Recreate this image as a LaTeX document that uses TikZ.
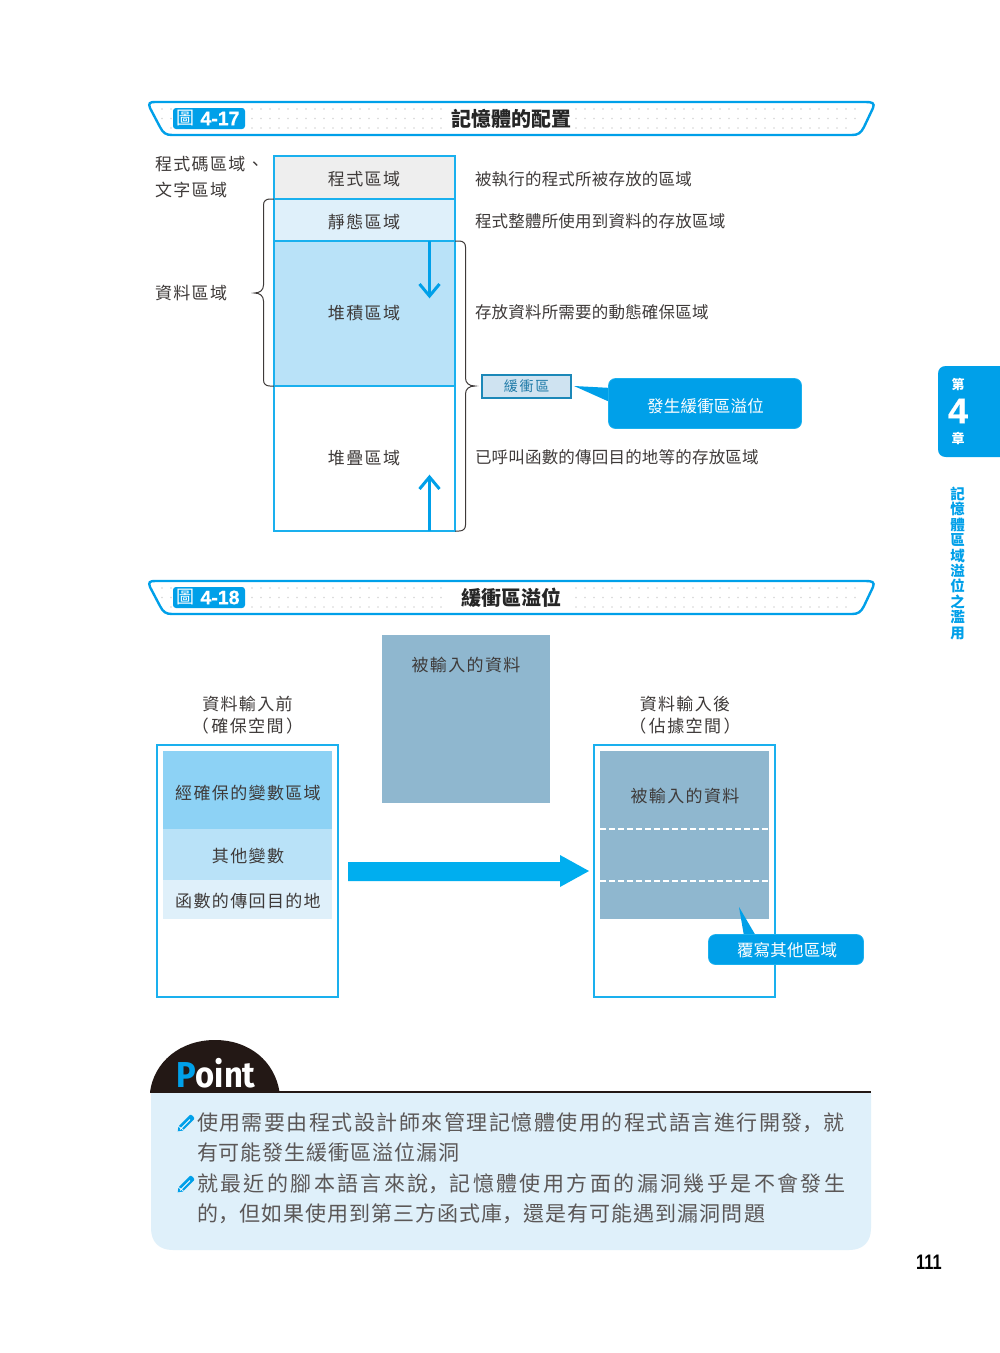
\documentclass[tikz,border=0pt]{standalone}
\usepackage{fontspec}
\setmainfont{Noto Sans CJK TC}
\newfontfamily\cjkA[LetterSpace=1.2]{Noto Sans CJK TC}
\newfontfamily\cjkB[LetterSpace=8]{Noto Sans CJK TC}
\newfontfamily\cjkS[LetterSpace=12.5]{Noto Sans CJK TC}
\newfontfamily\cjkT[LetterSpace=0]{Noto Sans CJK TC}
\newfontfamily\latB[FakeStretch=0.91]{Fira Sans}
\newfontfamily\numB{Liberation Sans}
\newfontfamily\numH[UprightFont=* Bold,FakeBold=0.5]{Liberation Sans}
\newfontfamily\numC[FakeStretch=0.78]{Liberation Sans}
\newcommand{\scm}[1]{{\fontspec{Noto Sans CJK SC}[LetterSpace=#1]，}}
\definecolor{cy}{HTML}{00A0E9}
\definecolor{ln}{HTML}{1AB0EE}
\definecolor{tx}{HTML}{3E3A39}
\definecolor{gr}{HTML}{EEEEEE}
\definecolor{pa}{HTML}{DFF0FA}
\definecolor{mi}{HTML}{B9E2F8}
\definecolor{da}{HTML}{8DD2F5}
\definecolor{st}{HTML}{8FB7CF}
\definecolor{bk}{HTML}{231815}
\definecolor{ar}{HTML}{00AEEF}
\tikzset{
 x=1pt,y=-1pt,
 every node/.style={inner sep=0pt,outer sep=0pt,text=tx},
 fa/.style={font=\cjkA\fontsize{16.5}{20}\selectfont},
 fb/.style={font=\cjkB\fontsize{17}{20}\selectfont,yshift=-0.6pt},
 fw/.style={font=\cjkA\fontsize{16.5}{20}\selectfont,text=white},
 lab/.style={fa,anchor=west},
 lef/.style={fb,anchor=west},
 ttl/.style={font=\cjkT\bfseries\fontsize{20}{24}\selectfont,text=black!85},
 pt/.style={anchor=west,text=tx!85},
 brace/.style={draw=tx,line width=1pt},
 memline/.style={draw=ln,line width=1.6pt},
 flow/.style={draw=cy,line width=3pt,line cap=butt},
 bubble/.style={fill=cy,draw=ln,line width=.7pt,rounded corners=7pt},
}
\newcommand{\titlebar}[4]{%
 \begin{scope}[yshift=#1]
 \draw[cy,line width=2.4pt,fill=white] (155,102) -- (866,102)
   .. controls (872,102) and (875,103) .. (873,108) -- (864,127)
   .. controls (861,133) and (858,135) .. (852,135) -- (172,135)
   .. controls (166,135) and (163,133) .. (160,127) -- (150,108)
   .. controls (148,103) and (150,102) .. (155,102) -- cycle;
 \foreach \r/\a/\b in {109/162/860,118.5/162/856,128/171/851}{
   \pgfmathsetmacro{\nx}{\a+9}
   \foreach \c in {\a,\nx,...,\b}{
     \fill[black!16] (\c,\r) circle (0.95);
   }}
 \fill[white] (#4-64,107) rectangle (#4+64,130);
 \node[fill=cy,rounded corners=3pt,minimum width=72pt,minimum height=21pt] (#2b) at (209,118.5) {};
 \node[font=\cjkT\fontsize{18}{18}\selectfont,text=white] (#2i) at (185,118.5) {圖};
 \node[font=\numH\fontsize{19.5}{20}\selectfont,text=white] (#2n) at (220,118.5) {#2};
 \node[ttl] (#2t) at (#4,118.5) {#3};
 \end{scope}}
\newcommand{\pencil}[2]{%
 \begin{scope}[shift={(#1,#2)},rotate=45]
 \fill[cy,line join=round] (-11,0) -- (-7,-3) -- (9,-3) .. controls (11,-3) and (11,3) .. (9,3) -- (-7,3) -- cycle;
 \draw[white,line width=0.9pt] (-8,0.4) -- (-6,0.4) -- (6,0.4);
 \draw[white,line width=0.7pt] (-7,-3) -- (-6,3);
 \end{scope}}
\begin{document}
\begin{tikzpicture}
\useasboundingbox (0,0) rectangle (1000,1353);
\fill[white] (0,0) rectangle (1000,1353);
% ---- title bars
\titlebar{0pt}{4-17}{記憶體的配置}{511}
\titlebar{-479pt}{4-18}{緩衝區溢位}{511}
% ---- fig 4-17
\node[fill=gr,minimum width=182pt,minimum height=43pt] (code) at (364.5,177.5) {};
\node[fill=pa,minimum width=182pt,minimum height=42pt] (stat) at (364.5,220) {};
\node[fill=mi,minimum width=182pt,minimum height=145pt] (heap) at (364.5,313.5) {};
\node[fill=white,minimum width=182pt,minimum height=145pt] (stack) at (364.5,458.5) {};
\draw[memline] (274,156) rectangle (455,531);
\draw[memline] (274,199) -- (455,199);
\draw[memline] (274,241) -- (455,241);
\draw[memline] (274,386) -- (455,386);
\node[fb] (tcode) at (364,178) {程式區域};
\node[fb] (tstat) at (364,221) {靜態區域};
\node[fb] (theap) at (364,312) {堆積區域};
\node[fb] (tstack) at (364,457) {堆疊區域};
\node[lef] (l1) at (155,163) {程式碼區域、};
\node[lef] (l2) at (155,189) {文字區域};
\node[lef] (l3) at (155,292) {資料區域};
\node[lab] (d1) at (475,179) {被執行的程式所被存放的區域};
\node[lab] (d2) at (475,221) {程式整體所使用到資料的存放區域};
\node[lab] (d3) at (475,312.5) {存放資料所需要的動態確保區域};
\node[lab] (d4) at (475,457) {已呼叫函數的傳回目的地等的存放區域};
% braces
\draw[brace] (274,199) -- (270,199) .. controls (266,199) and (263.5,201) .. (263.5,205) -- (263.5,285)
  .. controls (263.5,290) and (260,293) .. (254.5,293)
  .. controls (260,293) and (263.5,296) .. (263.5,301) -- (263.5,380)
  .. controls (263.5,384) and (266,386) .. (270,386) -- (274,386);
\draw[brace] (455,241) -- (459,241) .. controls (463,241) and (465.5,243) .. (465.5,247) -- (465.5,378)
  .. controls (465.5,383) and (469,386) .. (475,386)
  .. controls (469,386) and (465.5,389) .. (465.5,394) -- (465.5,525)
  .. controls (465.5,529) and (463,531) .. (459,531) -- (455,531);
% arrows
\coordinate (a1s) at (429.5,241); \coordinate (a1e) at (429.5,296);
\coordinate (a2s) at (429.5,531); \coordinate (a2e) at (429.5,477);
\draw[flow] (a1s) -- (a1e);
\draw[flow,line join=miter] (419.5,284) -- (a1e) -- (439.5,284);
\draw[flow] (a2s) -- (a2e);
\draw[flow,line join=miter] (419.5,489) -- (a2e) -- (439.5,489);
% buffer
\node[fill={rgb,255:red,207;green,227;blue,241},draw={rgb,255:red,28;green,136;blue,184},line width=1.6pt,minimum width=89pt,minimum height=23pt,font=\cjkS\fontsize{14}{16}\selectfont,text={rgb,255:red,30;green,122;blue,168}] (buf) at (526.5,386.5) {緩衝區};
\fill[cy] (574,386) -- (612,388) -- (612,403) -- cycle;
\node[bubble,minimum width=193pt,minimum height=50pt] (over) at (705,403.5) {};
\node[fw] (overt) at (705.5,406) {發生緩衝區溢位};
% ---- fig 4-18
\node[fill=st,minimum width=168pt,minimum height=168pt] (inp) at (466,719) {};
\node[fb] (inpt) at (466,664) {被輸入的資料};
\node[fb] (bef1) at (247.5,703) {資料輸入前};
\node[fb] (bef2) at (247.5,725) {（\kern2.5pt確保空間\kern2.5pt）};
\node[fb] (aft1) at (685,703) {資料輸入後};
\node[fb] (aft2) at (685,725) {（\kern2.5pt佔據空間\kern2.5pt）};
\node[draw=ln,line width=1.8pt,minimum width=181pt,minimum height=252pt] (lbox) at (247.5,871) {};
\node[draw=ln,line width=1.8pt,minimum width=181pt,minimum height=252pt] (rbox) at (684.5,871) {};
\node[fill=da,minimum width=169pt,minimum height=78pt] (v1) at (247.5,790) {};
\node[fill=mi,minimum width=169pt,minimum height=51pt] (v2) at (247.5,854.5) {};
\node[fill=pa,minimum width=169pt,minimum height=39pt] (v3) at (247.5,899.5) {};
\node[fb] (v1t) at (248,792) {經確保的變數區域};
\node[fb] (v2t) at (248,855) {其他變數};
\node[fb] (v3t) at (248,900) {函數的傳回目的地};
\node[fill=st,minimum width=169pt,minimum height=168pt] (r1) at (684.5,835) {};
\node[fb] (r1t) at (685,795) {被輸入的資料};
\coordinate (d1a) at (600,829); \coordinate (d1b) at (769,829);
\coordinate (d2a) at (600,881); \coordinate (d2b) at (769,881);
\draw[white,line width=1.2pt,dash pattern=on 6pt off 3pt] (d1a) -- (d1b);
\draw[white,line width=1.2pt,dash pattern=on 6pt off 3pt] (d2a) -- (d2b);
\fill[ar] (348,862) -- (560,862) -- (560,855) -- (589,871) -- (560,887) -- (560,881) -- (348,881) -- cycle;
\fill[cy] (739,907) -- (756,936) -- (744,936) -- cycle;
\node[bubble,minimum width=155pt,minimum height=30pt] (ow) at (786,949.5) {};
\node[fw] (owt) at (787,950) {覆寫其他區域};
% ---- point
\fill[pa] (151,1092) -- (871,1092) -- (871,1228) .. controls (871,1242) and (863,1250) .. (849,1250)
  -- (173,1250) .. controls (159,1250) and (151,1242) .. (151,1228) -- cycle;
\fill[bk] (150,1092) .. controls (154,1062) and (180,1040) .. (215,1040)
  .. controls (250,1040) and (275,1062) .. (279.5,1092) -- cycle;
\draw[bk,line width=1.8pt] (150,1092) -- (871,1092);
\node[font=\latB\bfseries\fontsize{36}{40}\selectfont,anchor=base west,text=white] (ptl) at (176,1087) {{\color{cy}P}oint};
\pencil{185.5}{1123.5}
\pencil{185.5}{1184.5}
\node[pt,font=\fontsize{21}{24}\selectfont\addfontfeature{LetterSpace=7.1}] (p1) at (197,1122.5) {使用需要由程式設計師來管理記憶體使用的程式語言進行開發\scm{7.1}就};
\node[pt,font=\fontsize{21}{24}\selectfont\addfontfeature{LetterSpace=4.5}] (p2) at (197,1152.5) {有可能發生緩衝區溢位漏洞};
\node[pt,font=\fontsize{21}{24}\selectfont\addfontfeature{LetterSpace=11.5}] (p3) at (197,1183.5) {就最近的腳本語言來說\scm{11.5}記憶體使用方面的漏洞幾乎是不會發生};
\node[pt,font=\fontsize{21}{24}\selectfont\addfontfeature{LetterSpace=5}] (p4) at (197,1213.5) {的\scm{5}但如果使用到第三方函式庫\scm{5}還是有可能遇到漏洞問題};
% ---- side tab
\fill[cy] (1000,366) -- (946,366) .. controls (941,366) and (938,369) .. (938,374) -- (938,449)
  .. controls (938,454) and (941,457) .. (946,457) -- (1000,457) -- cycle;
\node[font=\cjkT\bfseries\fontsize{13}{15}\selectfont,text=white] (tab1) at (958,384) {第};
\node[font=\numH\fontsize{36}{38}\selectfont,text=white] (tab2) at (958,411) {4};
\node[font=\cjkT\bfseries\fontsize{13}{15}\selectfont,text=white] (tab3) at (958,438) {章};
\node[font=\cjkT\bfseries\fontsize{14.5}{15.4}\selectfont,text=cy,align=center,anchor=north] (side) at (957.5,487) {記\\憶\\體\\區\\域\\溢\\位\\之\\濫\\用};
\node[font=\numC\bfseries\fontsize{21}{23}\selectfont,text=black] (pg) at (929,1262) {111};
\end{tikzpicture}
\end{document}
